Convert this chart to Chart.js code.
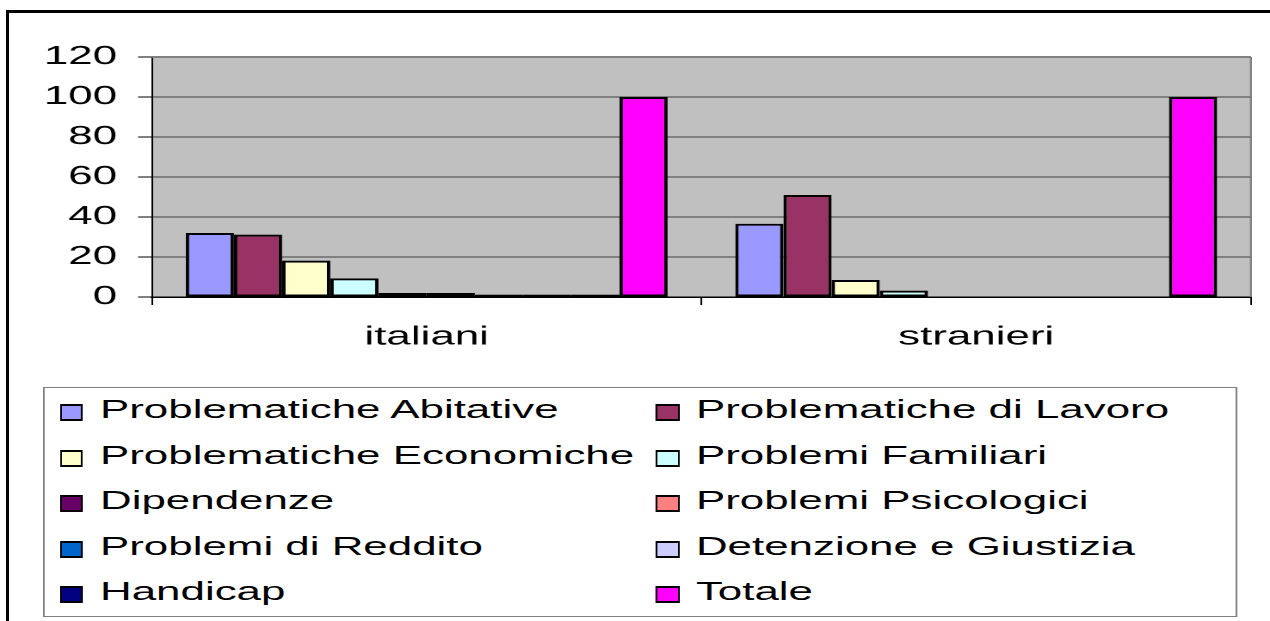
<!DOCTYPE html>
<html>
<head>
<meta charset="utf-8">
<script src="https://cdn.jsdelivr.net/npm/chart.js@4.4.1/dist/chart.umd.min.js"></script>
<style>
  html, body { margin: 0; padding: 0; background: #fff; overflow: hidden; width: 1270px; height: 621px; }
  #frame { position: absolute; left: 6px; top: 10px; width: 1400px; height: 800px;
           border-left: 3px solid #000; border-top: 3px solid #000; }
  /* the whole drawing is laid out on a narrower stage and widened horizontally */
  #stage { position: absolute; left: 0; top: 0; width: 738px; height: 621px;
           transform: scaleX(1.7209); transform-origin: 0 0; }
  #chart { position: absolute; left: 0; top: 0; }
  #legend { position: absolute; left: 25px; top: 387px; width: 694.4px; height: 230px;
            box-sizing: border-box; border: 1px solid #808080; background: #fff;
            font-family: 'Liberation Sans', Arial, sans-serif; font-size: 25.5px; color: #000; }
  .swatch { position: absolute; width: 13.4px; height: 17px; box-sizing: border-box;
            border-style: solid; border-color: #000; border-width: 2px 1.1px; }
  .label { position: absolute; white-space: nowrap; line-height: 25.5px; }
</style>
</head>
<body>
<div id="frame"></div>
<div id="stage">
  <canvas id="chart" width="738" height="621"></canvas>
  <div id="legend"></div>
</div>
<script>
const FONT = "'Liberation Sans', Arial, sans-serif";

const categories = ['italiani', 'stranieri'];

const seriesNames = [
  'Problematiche Abitative',
  'Problematiche di Lavoro',
  'Problematiche Economiche',
  'Problemi Familiari',
  'Dipendenze',
  'Problemi Psicologici',
  'Problemi di Reddito',
  'Detenzione e Giustizia',
  'Handicap',
  'Totale'
];

const seriesColors = [
  '#9999FF', '#993366', '#FFFFCC', '#CCFFFF', '#660066',
  '#FF8080', '#0066CC', '#CCCCFF', '#000080', '#FF00FF'
];

// one value per series, in series order
const italianiValues  = [32, 31.2, 18.2, 9.3, 2, 2, 1.2, 1.2, 1.2, 100];
const stranieriValues = [36.6, 51, 8.5, 3.2, 0, 0, 0, 0, 0, 100];

const yTicks = [0, 20, 40, 60, 80, 100, 120];

const datasets = seriesNames.map((name, i) => ({
  label: name,
  data: [italianiValues[i], stranieriValues[i]],
  backgroundColor: seriesColors[i]
}));

const plotFrame = {
  id: 'plotFrame',
  beforeDraw(chart) {
    const { ctx, chartArea: a } = chart;
    ctx.save();
    ctx.fillStyle = '#C0C0C0';
    ctx.fillRect(a.left, a.top, a.right - a.left, a.bottom - a.top);
    ctx.restore();
  },
  afterDraw(chart) {
    const { ctx, chartArea: a } = chart;
    ctx.save();
    ctx.strokeStyle = '#808080';
    ctx.lineWidth = 2;
    ctx.beginPath();
    ctx.moveTo(a.left, a.top);
    ctx.lineTo(a.right, a.top);
    ctx.stroke();
    ctx.lineWidth = 1.2;
    ctx.beginPath();
    ctx.moveTo(a.right, a.top);
    ctx.lineTo(a.right, a.bottom);
    ctx.stroke();
    ctx.restore();
  }
};

const chart = new Chart(document.getElementById('chart'), {
  type: 'bar',
  data: { labels: categories, datasets },
  options: {
    responsive: false,
    devicePixelRatio: 2,
    animation: false,
    layout: { padding: { top: 57, right: 11.1, left: 0, bottom: 0 } },
    plugins: { legend: { display: false }, tooltip: { enabled: false } },
    datasets: {
      bar: {
        barPercentage: 1,
        categoryPercentage: 0.877,
        borderWidth: 2,
        borderColor: '#000',
        borderSkipped: false
      }
    },
    scales: {
      x: {
        grid: { display: true, drawOnChartArea: false, drawTicks: true, tickLength: 8,
                tickColor: '#000', tickWidth: 1, offset: true },
        border: { display: true, color: '#000', width: 1.5 },
        ticks: { color: '#000', font: { family: FONT, size: 25.5 }, padding: 17, maxRotation: 0 },
        afterFit(scale) { scale.height = 324; }
      },
      y: {
        min: 0,
        max: 120,
        afterBuildTicks(scale) { scale.ticks = yTicks.map(v => ({ value: v })); },
        ticks: { color: '#000', font: { family: FONT, size: 25.5 }, padding: 12.2 },
        grid: {
          color: c => (c.tick && c.tick.value === 120) ? '#808080' : '#404040',
          lineWidth: 1,
          drawTicks: true,
          tickLength: 8.1,
          tickColor: '#000'
        },
        border: { display: true, color: '#000', width: 1 },
        afterFit(scale) { scale.width = 88.3; }
      }
    }
  },
  plugins: [plotFrame]
});

// two-column legend built from the chart's own datasets
const legend = document.getElementById('legend');
const swatchLeft = [8.9, 355.2];
const textLeft = [32.1, 378.4];
const rowStep = 45.6;
chart.data.datasets.forEach((d, i) => {
  const col = i % 2, row = Math.floor(i / 2);
  const sw = document.createElement('div');
  sw.className = 'swatch';
  sw.style.left = swatchLeft[col] + 'px';
  sw.style.top = (16 + row * rowStep) + 'px';
  sw.style.background = d.backgroundColor;
  legend.appendChild(sw);
  const tx = document.createElement('div');
  tx.className = 'label';
  tx.textContent = d.label;
  tx.style.left = textLeft[col] + 'px';
  tx.style.top = (9 + row * rowStep) + 'px';
  legend.appendChild(tx);
});
</script>
</body>
</html>
